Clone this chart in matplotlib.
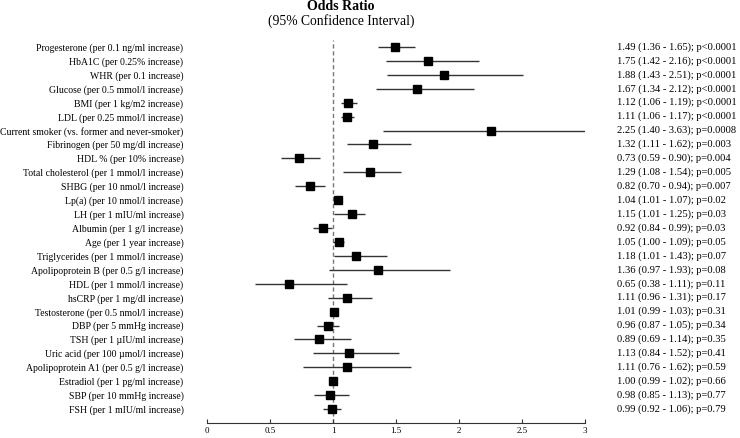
import matplotlib.pyplot as plt

# Odds ratios with 95% confidence intervals
labels = [
    "Progesterone (per 0.1 ng/ml increase)",
    "HbA1C (per 0.25% increase)",
    "WHR (per 0.1 increase)",
    "Glucose (per 0.5 mmol/l increase)",
    "BMI (per 1 kg/m2 increase)",
    "LDL (per 0.25 mmol/l increase)",
    "Current smoker (vs. former and never-smoker)",
    "Fibrinogen (per 50 mg/dl increase)",
    "HDL % (per 10% increase)",
    "Total cholesterol (per 1 mmol/l increase)",
    "SHBG (per 10 nmol/l increase)",
    "Lp(a) (per 10 nmol/l increase)",
    "LH (per 1 mIU/ml increase)",
    "Albumin (per 1 g/l increase)",
    "Age (per 1 year increase)",
    "Triglycerides (per 1 mmol/l increase)",
    "Apolipoprotein B (per 0.5 g/l increase)",
    "HDL (per 1 mmol/l increase)",
    "hsCRP (per 1 mg/dl increase)",
    "Testosterone (per 0.5 nmol/l increase)",
    "DBP (per 5 mmHg increase)",
    "TSH (per 1 \u00b5IU/ml increase)",
    "Uric acid (per 100 \u00b5mol/l increase)",
    "Apolipoprotein A1 (per 0.5 g/l increase)",
    "Estradiol (per 1 pg/ml increase)",
    "SBP (per 10 mmHg increase)",
    "FSH (per 1 mIU/ml increase)",
]
odds = [1.49, 1.75, 1.88, 1.67, 1.12, 1.11, 2.25, 1.32, 0.73, 1.29, 0.82, 1.04, 1.15,
        0.92, 1.05, 1.18, 1.36, 0.65, 1.11, 1.01, 0.96, 0.89, 1.13, 1.11, 1.00, 0.98, 0.99]
lower = [1.36, 1.42, 1.43, 1.34, 1.06, 1.06, 1.40, 1.11, 0.59, 1.08, 0.70, 1.01, 1.01,
         0.84, 1.00, 1.01, 0.97, 0.38, 0.96, 0.99, 0.87, 0.69, 0.84, 0.76, 0.99, 0.85, 0.92]
upper = [1.65, 2.16, 2.51, 2.12, 1.19, 1.17, 3.63, 1.62, 0.90, 1.54, 0.94, 1.07, 1.25,
         0.99, 1.09, 1.43, 1.93, 1.11, 1.31, 1.03, 1.05, 1.14, 1.52, 1.62, 1.02, 1.13, 1.06]
pvals = ["p<0.0001", "p<0.0001", "p<0.0001", "p<0.0001", "p<0.0001", "p<0.0001",
         "p=0.0008", "p=0.003", "p=0.004", "p=0.005", "p=0.007", "p=0.02", "p=0.03",
         "p=0.03", "p=0.05", "p=0.07", "p=0.08", "p=0.11", "p=0.17", "p=0.31", "p=0.34",
         "p=0.35", "p=0.41", "p=0.59", "p=0.66", "p=0.77", "p=0.79"]
xticks = [0, 0.5, 1, 1.5, 2, 2.5, 3]
xticklabels = ["0", "0.5", "1", "1.5", "2", "2.5", "3"]

plt.rcParams["font.family"] = ["Liberation Serif", "DejaVu Serif"]

fig = plt.figure(figsize=(7.4, 4.38), dpi=100)
ax = fig.add_axes([207 / 740, 15 / 438, 378 / 740, 383 / 438])

rows = list(range(len(labels)))
ax.axvline(1, color="#777777", linestyle=(0, (3, 2)), linewidth=1.0, zorder=1)
ax.hlines(rows, lower, upper, color="#333333", linewidth=1.0, zorder=2)
ax.plot(odds, rows, "s", color="black", markersize=6, zorder=3)

ax.set_xlim(0, 3)
ax.set_ylim(27.0, -0.5)
ax.set_xticks(xticks)
ax.set_xticklabels(xticklabels, fontsize=6.5)
ax.tick_params(axis="x", direction="in", length=3, width=0.8, pad=3, color="#333333")
ax.set_yticks(rows)
ax.set_yticklabels(labels, fontsize=7.0)
ax.tick_params(axis="y", length=0, pad=17)
for side in ["left", "top", "right"]:
    ax.spines[side].set_visible(False)
ax.spines["bottom"].set_color("#333333")
ax.spines["bottom"].set_linewidth(0.8)

trans = ax.get_yaxis_transform()
for i in rows:
    txt = f"{odds[i]:.2f} ({lower[i]:.2f} - {upper[i]:.2f}); {pvals[i]}"
    ax.text(1.085, i, txt, transform=trans, fontsize=7.6, va="center", ha="left")

fig.text(341 / 740, 1 - 6 / 438, "Odds Ratio", fontsize=10, fontweight="bold",
         ha="center", va="center")
fig.text(341 / 740, 1 - 21 / 438, "(95% Confidence Interval)", fontsize=9.8,
         ha="center", va="center")

fig.savefig("out.png", dpi=100)
